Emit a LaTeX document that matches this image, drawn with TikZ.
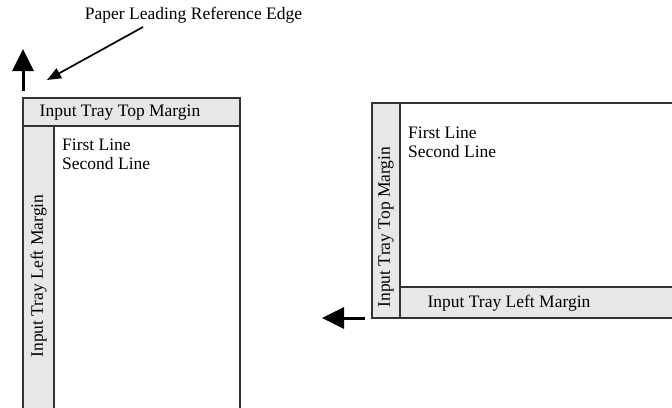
\documentclass[tikz,border=0pt]{standalone}
\usepackage{fontspec}
\setmainfont{Liberation Serif}
\usetikzlibrary{arrows.meta}
\definecolor{mgray}{HTML}{E6E7E8}
\definecolor{edge}{HTML}{333333}
\begin{document}
\begin{tikzpicture}[x=1pt,y=-1pt,
  txt/.style={font=\fontsize{17.5}{19}\selectfont, inner sep=0pt, text=black},
  band/.style={fill=mgray, draw=edge, line width=1.2pt},
  paper/.style={fill=white, draw=edge, line width=1.2pt},
  bigarrow/.style={line width=3pt, -{Triangle[width=21pt,length=22pt]}},
  ptr/.style={line width=1.7pt, -{Triangle[width=11pt,length=14pt]}}]
\useasboundingbox (0,0) rectangle (672,407);
\clip (0,0) rectangle (672,407);
% left sheet
\draw[paper] (23,98) rectangle (240,420);
\draw[band] (23,98) rectangle (240,126);
\draw[band] (23,126) rectangle (54,420);
\node[txt] (ltop) at (120,112.5) {Input Tray Top Margin};
\node[txt, rotate=90] (lleft) at (38.5,276) {Input Tray Left Margin};
\node[txt, anchor=north west, align=left] (ltext) at (62,139) {First Line\\Second Line};
% right sheet
\draw[paper] (372,103) rectangle (690,318);
\draw[band] (372,103) rectangle (400,318);
\draw[band] (400,287) rectangle (690,318);
\node[txt, rotate=90] (rtop) at (386,227) {Input Tray Top Margin};
\node[txt] (rleft) at (509,303) {Input Tray Left Margin};
\node[txt, anchor=north west, align=left] (rtext) at (408,127) {First Line\\Second Line};
% label and arrows
\node[txt] (lbl) at (193.5,15) {Paper Leading Reference Edge};
\coordinate (ptrstart) at (143,27);
\coordinate (ptrend) at (47,80);
\draw[ptr] (ptrstart) -- (ptrend);
\coordinate (upstart) at (23,91);
\coordinate (upend) at (23,49);
\draw[bigarrow] (upstart) -- (upend);
\coordinate (lfstart) at (365,318);
\coordinate (lfend) at (322,318);
\draw[bigarrow] (lfstart) -- (lfend);
\end{tikzpicture}
\end{document}
